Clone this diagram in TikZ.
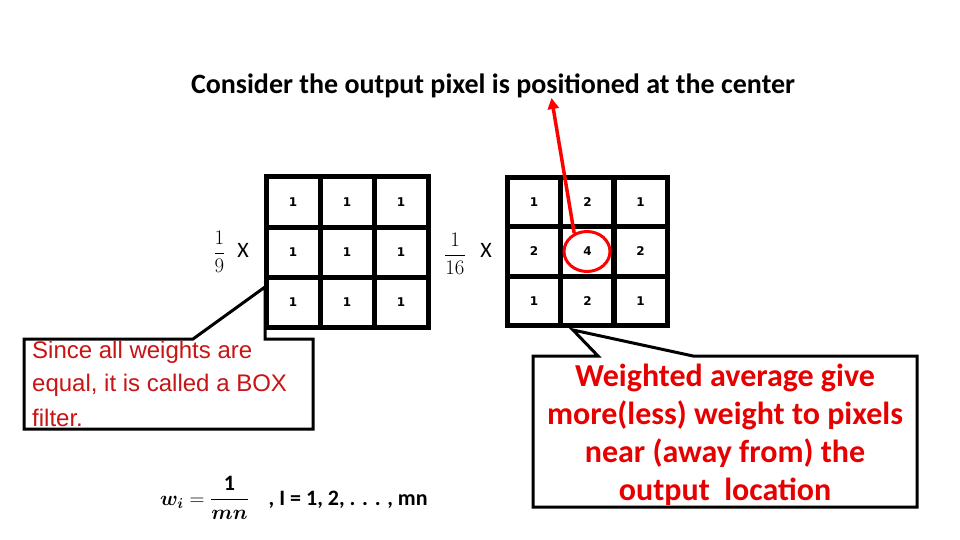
\documentclass[tikz,border=0pt]{standalone}
\usepackage{amsmath}
\usepackage{fontspec}
\setmainfont{Carlito}
\newfontfamily\arialf{Liberation Sans}
\newfontfamily\numf{DejaVu Sans}
\usetikzlibrary{arrows.meta,shapes.geometric}
\definecolor{boxred}{RGB}{200,20,20}
\definecolor{brightred}{RGB}{230,0,0}
\tikzset{
  cellL/.style={draw, line width=5pt, minimum width=54pt, minimum height=50pt, inner sep=0pt,
    font=\numf\bfseries\fontsize{12}{14}\selectfont},
  cellR/.style={cellL, minimum width=53.5pt, minimum height=49.5pt},
  callout/.style={draw, line width=3pt, fill=white, line join=miter},
  fracnode/.style={font=\fontsize{20}{24}\selectfont, inner sep=0pt},
  xnode/.style={font=\fontsize{22}{26}\selectfont, inner sep=0pt},
}
\begin{document}
\begin{tikzpicture}[x=1pt,y=-1pt]
\useasboundingbox[fill=white] (0,0) rectangle (960,540);

% title
\node[font=\bfseries\fontsize{28}{32}\selectfont, anchor=base, inner sep=0pt] (title) at (493,94)
  {Consider the output pixel is positioned at the center};

% left grid
\foreach \r/\y in {1/202,2/252,3/302}{
  \foreach \c/\x in {1/293,2/347,3/401}{
    \node[cellL] (L\r\c) at (\x,\y) {1};
  }
}
% right grid
\foreach \r/\y/\a/\b in {1/202/1/2,2/251.5/2/4,3/301/1/2}{
  \node[cellR] (R\r1) at (534,\y) {\a};
  \node[cellR] (R\r2) at (587.5,\y) {\b};
  \node[cellR] (R\r3) at (640.5,\y) {\a};
}

% fractions
\node[fracnode] (frac1) at (219.5,252) {$\dfrac{1}{9}$};
\node[xnode] (x1) at (243,250) {X};
\node[fracnode] (frac2) at (455,254) {$\dfrac{1}{16}$};
\node[xnode] (x2) at (486,250) {X};

% red ring and arrow
\node[draw=red, line width=3pt, ellipse, minimum width=46pt, minimum height=40pt, inner sep=0pt] (ring) at (587,251.5) {};
\coordinate (tip) at (551.5,98);
\draw[red, line width=3.5pt, -{Triangle[length=11pt,width=11pt]}] (ring.125) -- (tip);

% left callout
\coordinate (ltip) at (265,287);
\draw[callout] (24,339) -- (193,339) -- (ltip) -- (265,339) -- (313,339) -- (313,429) -- (24,429) -- cycle;
\node[anchor=north west, inner sep=0pt, align=left, text=boxred,
  font=\arialf\fontsize{24}{33}\selectfont] (boxtxt) at (32,341)
  {Since all weights are\\equal, it is called a BOX\\[2pt]filter.};

% right callout
\coordinate (rtip) at (573,330);
\draw[callout] (533,356) -- (598,356) -- (rtip) -- (693,356) -- (917,356) -- (917,507) -- (533,507) -- cycle;
\node[anchor=north, inner sep=0pt, align=center, text=brightred,
  font=\bfseries\fontsize{32}{38}\selectfont] (wtxt) at (725,364)
  {Weighted average give\\more(less) weight to pixels\\near (away from) the\\output\ \ location};

% formula
\node[anchor=base west, inner sep=0pt, font=\fontsize{22}{26}\selectfont] (formula) at (160,505)
  {$\boldsymbol{w_i} = \dfrac{\mathbf{1}}{\boldsymbol{mn}}$\ \ \ \ \textbf{, I = 1, 2, . . . , mn}};
\end{tikzpicture}
\end{document}
